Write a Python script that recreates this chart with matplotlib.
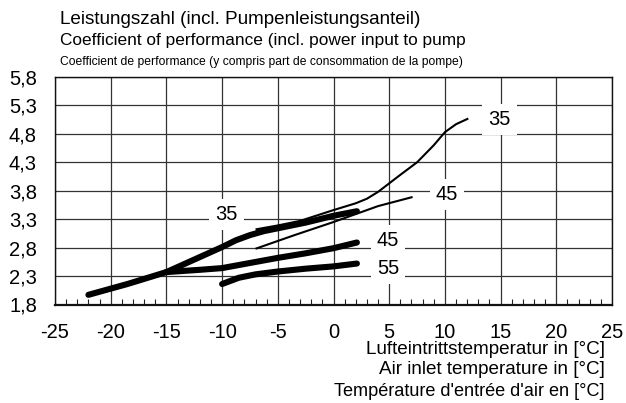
import matplotlib
matplotlib.use('Agg')
import matplotlib.pyplot as plt
import numpy as np
from matplotlib.ticker import MultipleLocator

plt.rcParams['font.family'] = ['Liberation Sans', 'DejaVu Sans']

# thick curves
x_base = [-22, -18.5, -15]
y_base = [1.97, 2.16, 2.37]

x_35_thick = [-15, -12.5, -10, -8.75, -7.5, -6.25, -5, -2.5, 0, 2.1]
y_35_thick = [2.37, 2.59, 2.81, 2.93, 3.02, 3.09, 3.14, 3.24, 3.36, 3.44]

x_45_thick = [-15, -12, -10, -7.5, -5, -2.5, 0, 2.1]
y_45_thick = [2.37, 2.41, 2.44, 2.53, 2.62, 2.70, 2.79, 2.89]

x_55_thick = [-10, -8.5, -7, -5, -2.5, 0, 2.1]
y_55_thick = [2.16, 2.27, 2.33, 2.38, 2.43, 2.47, 2.52]

# thin curves
x_35_thin = [-7, -5, -3, 0, 2, 3, 4, 5, 6, 7.5, 9, 10, 11, 12.1]
y_35_thin = [3.12, 3.19, 3.27, 3.46, 3.58, 3.66, 3.78, 3.93, 4.08, 4.30, 4.60, 4.83, 4.97, 5.07]

x_45_thin = [-7, -3.5, 0, 4, 7.1]
y_45_thin = [2.78, 3.02, 3.25, 3.53, 3.69]

labels = ['35', '45', '45', '55', '35']
label_x = [14.9, 10.2, 4.9, 4.9, -9.6]
label_y = [5.06, 3.73, 2.92, 2.44, 3.38]

xticks = np.arange(-25, 26, 5)
yticks = [1.8, 2.3, 2.8, 3.3, 3.8, 4.3, 4.8, 5.3, 5.8]
ytick_labels = [f'{v:.1f}'.replace('.', ',') for v in yticks]

fig = plt.figure(figsize=(6.26, 4.03), dpi=100)
ax = fig.add_axes([55/626, 1-304.5/403, 557/626, 227.5/403])

ax.set_xlim(-25, 25)
ax.set_ylim(1.8, 5.8)
ax.set_xticks(xticks)
ax.set_xticklabels([str(v) for v in xticks])
ax.set_yticks(yticks)
ax.set_yticklabels(ytick_labels)
ax.xaxis.set_minor_locator(MultipleLocator(1))
ax.tick_params(axis='both', which='major', length=0, labelsize=14.5)
ax.tick_params(axis='x', which='major', pad=13)
ax.tick_params(axis='y', which='major', pad=13)
ax.tick_params(axis='x', which='minor', direction='in', length=4, width=0.8, color='#222222')
ax.grid(True, which='major', color='#333333', linewidth=0.9)
for s in ax.spines.values():
    s.set_linewidth(1.0)
    s.set_color('#111111')
ax.spines['bottom'].set_linewidth(1.6)

thick = dict(color='black', linewidth=4.4, solid_capstyle='round', zorder=3)
thin = dict(color='black', linewidth=1.5, solid_capstyle='butt', zorder=3)
ax.plot(x_base, y_base, **thick)
ax.plot(x_35_thick, y_35_thick, **thick)
ax.plot(x_45_thick, y_45_thick, **thick)
ax.plot(x_55_thick, y_55_thick, **thick)
ax.plot(x_35_thin, y_35_thin, **thin)
ax.plot(x_45_thin, y_45_thin, **thin)

for t, lx, ly in zip(labels, label_x, label_y):
    ax.text(lx, ly, t, fontsize=14.5, ha='center', va='center', zorder=4,
            bbox=dict(boxstyle='square,pad=0.3', facecolor='white', edgecolor='none'))

fig.text(60/626, 1-19/403, 'Leistungszahl (incl. Pumpenleistungsanteil)', fontsize=13.6, va='center')
fig.text(60/626, 1-41/403, 'Coefficient of performance (incl. power input to pump', fontsize=12.4, va='center')
fig.text(60/626, 1-62/403, 'Coefficient de performance (y compris part de consommation de la pompe)',
         fontsize=8.7, va='center')

fig.text(605/626, 1-349/403, 'Lufteintrittstemperatur in [°C]', fontsize=13.6, ha='right', va='center')
fig.text(605/626, 1-370/403, 'Air inlet temperature in [°C]', fontsize=13.6, ha='right', va='center')
fig.text(605/626, 1-392/403, "Température d'entrée d'air en [°C]", fontsize=13.1, ha='right', va='center')

fig.savefig('out.png', dpi=100)
